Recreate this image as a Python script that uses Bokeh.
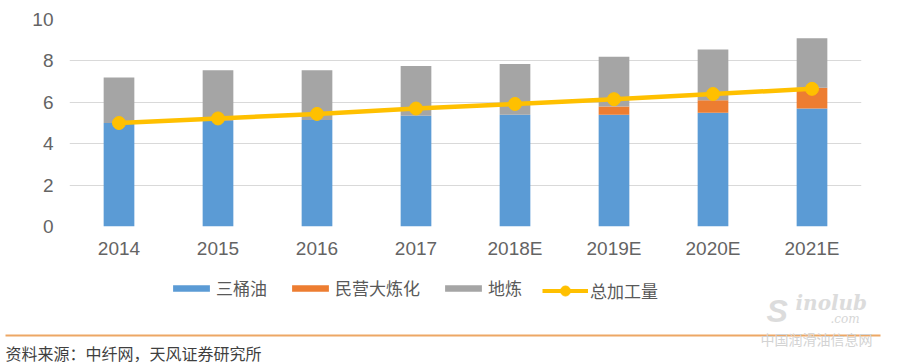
from bokeh.plotting import figure
from bokeh.models import (Range1d, FactorRange, Legend, LegendItem,
                          ColumnDataSource, FixedTicker)
from bokeh.layouts import column
from bokeh.embed import file_html
from bokeh.resources import INLINE
from bokeh.core.properties import value

# ---------------- data ----------------
years = ["2014", "2015", "2016", "2017", "2018E", "2019E", "2020E", "2021E"]
three_barrels = [5.0, 5.1, 5.15, 5.35, 5.4, 5.4, 5.5, 5.7]        # 三桶油
private_refining = [0, 0, 0, 0, 0, 0.4, 0.6, 1.0]                # 民营大炼化
local_refining = [2.2, 2.45, 2.4, 2.4, 2.45, 2.4, 2.45, 2.4]      # 地炼
total_throughput = [5.0, 5.22, 5.44, 5.7, 5.92, 6.15, 6.4, 6.65]  # 总加工量
series_names = ["三桶油", "民营大炼化", "地炼", "总加工量"]
y_ticks = [0, 2, 4, 6, 8, 10]
source_note = "资料来源：中纤网，天风证券研究所"
watermark_cn = "中国润滑油信息网"

# ---------------- styles ----------------
BLUE, ORANGE, GRAY, YELLOW = "#5B9BD5", "#ED7D31", "#A5A5A5", "#FFC000"
TXT = "#595959"
CJK = "Noto Sans CJK SC"
NUM = "Liberation Sans"
W = 900
H1 = 268
H2 = 95

src = ColumnDataSource(dict(year=years, a=three_barrels, b=private_refining,
                            c=local_refining, total=total_throughput))

p = figure(x_range=FactorRange(factors=years), y_range=Range1d(0, 10),
           width=W, height=H1, output_backend="svg", toolbar_location=None,
           min_border_left=69, min_border_right=39, min_border_top=19,
           min_border_bottom=H1 - 226, frame_align=False)
p.outline_line_color = None
p.background_fill_color = "white"
p.border_fill_color = "white"

p.vbar_stack(["a", "b", "c"], x="year", width=0.31, source=src,
             color=[BLUE, ORANGE, GRAY], line_color=None)
p.line(x="year", y="total", source=src, line_color=YELLOW, line_width=4.5)
p.scatter(x="year", y="total", source=src, size=13, fill_color=YELLOW,
          line_color=YELLOW)

p.xgrid.grid_line_color = None
p.ygrid.grid_line_color = "#D9D9D9"
p.ygrid.grid_line_width = 1

p.yaxis.ticker = FixedTicker(ticks=y_ticks)
for ax in (p.xaxis, p.yaxis):
    ax.axis_line_color = None
    ax.major_tick_line_color = None
    ax.minor_tick_line_color = None
    ax.major_tick_out = 0
    ax.minor_tick_out = 0
    ax.major_label_text_font = NUM
    ax.major_label_text_font_size = "19px"
    ax.major_label_text_color = "#646464"
p.yaxis.major_label_standoff = 16
p.xaxis.major_label_standoff = 11

# ---------------- legend + footer ----------------
f = figure(width=W, height=H2, x_range=Range1d(0, W), y_range=Range1d(H2, 0),
           output_backend="svg", toolbar_location=None, min_border=0,
           x_axis_location=None, y_axis_location=None, frame_align=False)
f.grid.grid_line_color = None
f.outline_line_color = None
f.background_fill_color = "white"
f.border_fill_color = "white"

# legend proxies (kept out of view)
off = dict(x=[-500], top=[-500], width=1)
lb = f.vbar(**off, color=BLUE, line_color=None)
lo = f.vbar(**off, color=ORANGE, line_color=None)
lg = f.vbar(**off, color=GRAY, line_color=None)
ll = f.line(x=[-500, -400], y=[-500, -500], line_color=YELLOW, line_width=4)
lp = f.scatter(x=[-500], y=[-500], size=13, fill_color=YELLOW, line_color=YELLOW)

common = dict(orientation="horizontal", label_standoff=2, spacing=20,
              padding=0, margin=0, border_line_color=None,
              background_fill_alpha=0, label_text_font=CJK,
              label_text_font_size="17px", label_text_color=TXT, label_height=20)

legend_bars = Legend(items=[
    LegendItem(label=series_names[0], renderers=[lb]),
    LegendItem(label=series_names[1], renderers=[lo]),
    LegendItem(label=series_names[2], renderers=[lg]),
], location=(168, H2 - 32), glyph_width=46, glyph_height=8, **common)
legend_line = Legend(items=[
    LegendItem(label=series_names[3], renderers=[ll, lp]),
], location=(542, H2 - 34.5), glyph_width=46, glyph_height=25, **common)
f.add_layout(legend_bars)
f.add_layout(legend_line)

f.segment(x0=[5], y0=[67], x1=[880], y1=[67], line_color="#EDA765", line_width=2)
f.text(x=[5], y=[84], text=[source_note], text_font=value(CJK),
       text_font_size="16px", text_color="#3F3F3F", text_baseline="middle",
       text_align="left")
# watermark
f.text(x=[766], y=[24], text=["S"], text_font=value(NUM), text_font_size="32px",
       text_font_style="bold italic", text_color="#DCDCDC", text_baseline="top",
       text_align="left")
f.text(x=[795], y=[22], text=["inolub"], text_font=value("DejaVu Serif"),
       text_font_size="20px", text_font_style="bold italic", text_color="#DCDCDC",
       text_baseline="top", text_align="left")
f.text(x=[830], y=[43], text=[".com"], text_font=value("DejaVu Serif"),
       text_font_size="12px", text_font_style="italic", text_color="#D6D6D6",
       text_baseline="top", text_align="left")
f.text(x=[760], y=[70], text=[watermark_cn], text_font=value(CJK),
       text_font_size="14px", text_color="#D3D3D3", text_baseline="middle",
       text_align="left")

layout = column(p, f, spacing=0)
open("out.html", "w").write(file_html(layout, INLINE))
